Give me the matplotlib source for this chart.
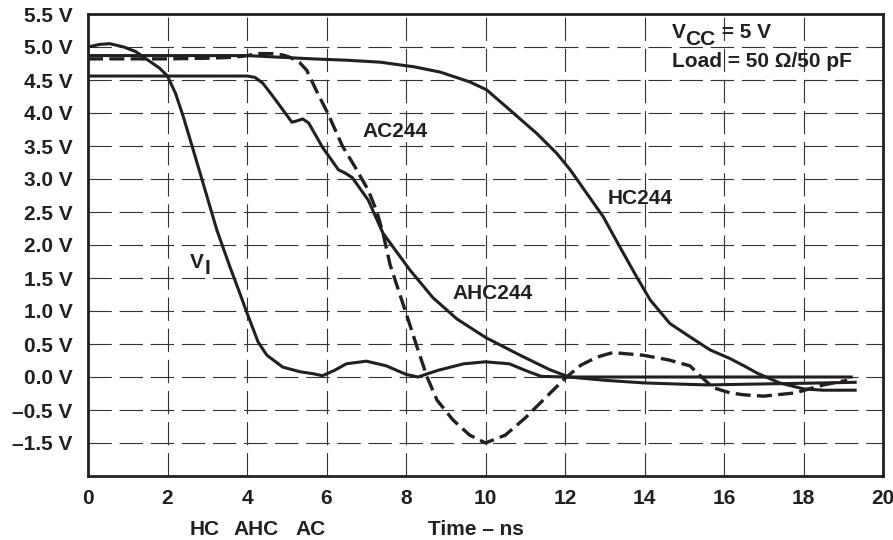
import matplotlib.pyplot as plt
import numpy as np

plt.rcParams['font.family'] = ['Liberation Sans', 'DejaVu Sans']
plt.rcParams['font.weight'] = 'bold'

ink = '#231f20'

# time axis (ns) and voltage readings for each trace
vi_t = [0, 0.3, 0.55, 0.9, 1.2, 1.56, 1.8, 2.0, 2.2, 2.4, 2.82, 3.24, 3.57, 3.8, 4.0, 4.28, 4.5,
        4.9, 5.33, 5.66, 5.9, 6.2, 6.5, 7.0, 7.5, 8.0, 8.3, 8.8, 9.45, 10.0, 10.6, 11.0, 11.4, 12.0, 19.2]
vi_v = [5.0, 5.04, 5.05, 5.0, 4.93, 4.78, 4.68, 4.56, 4.3, 3.94, 3.09, 2.23, 1.67, 1.3, 0.97, 0.53, 0.33,
        0.15, 0.08, 0.05, 0.02, 0.1, 0.2, 0.24, 0.17, 0.04, 0.0, 0.1, 0.2, 0.23, 0.2, 0.1, 0.01, 0.0, 0.0]

hc_t = [0, 2, 4, 5, 5.66, 6.5, 7.35, 8.2, 8.86, 9.61, 10.03, 10.7, 11.29, 11.79, 12.13, 12.55, 12.96,
        13.38, 13.8, 14.14, 14.64, 15.14, 15.65, 16.15, 16.5, 16.83, 17.4, 18.0, 18.5, 19.3]
hc_v = [4.87, 4.87, 4.87, 4.84, 4.82, 4.8, 4.77, 4.7, 4.62, 4.47, 4.35, 4.0, 3.69, 3.39, 3.14, 2.78, 2.43,
        1.97, 1.52, 1.17, 0.81, 0.61, 0.41, 0.28, 0.17, 0.06, -0.09, -0.18, -0.2, -0.2]

ac_t = [0, 1, 2, 3, 3.5, 3.9, 4.3, 4.6, 4.9, 5.1, 5.33, 5.5, 5.8, 6.03, 6.4, 6.72, 7.05, 7.27, 7.42, 7.6,
        8.0, 8.28, 8.53, 8.78, 9.18, 9.6, 10.0, 10.5, 11.0, 11.5, 12.0, 12.4, 12.8, 13.2, 13.96, 14.6,
        15.14, 15.4, 15.72, 16.15, 16.5, 17.0, 17.8, 18.2, 18.5, 19.1]
ac_v = [4.82, 4.82, 4.82, 4.83, 4.84, 4.86, 4.9, 4.9, 4.88, 4.84, 4.76, 4.65, 4.27, 4.0, 3.5, 3.18, 2.83, 2.5, 2.18, 1.7,
        0.97, 0.45, 0.0, -0.35, -0.65, -0.88, -1.0, -0.88, -0.62, -0.32, -0.02, 0.18, 0.3, 0.37, 0.33, 0.26,
        0.17, 0.02, -0.16, -0.24, -0.27, -0.29, -0.24, -0.17, -0.12, -0.05]

ahc_t = [0, 2, 4.0, 4.2, 4.4, 4.63, 4.9, 5.13, 5.25, 5.4, 5.55, 5.9, 6.3, 6.47, 6.65, 7.05, 7.42, 8.1,
         8.68, 9.28, 10.0, 10.45, 10.87, 11.62, 12.1, 13, 14, 15, 15.6, 16.5, 17.5, 18.5, 19.3]
ahc_v = [4.56, 4.56, 4.56, 4.54, 4.45, 4.27, 4.05, 3.86, 3.88, 3.91, 3.85, 3.48, 3.14, 3.09, 3.02, 2.68, 2.18, 1.62,
         1.2, 0.88, 0.6, 0.46, 0.33, 0.11, 0.0, -0.05, -0.09, -0.11, -0.12, -0.11, -0.1, -0.09, -0.08]

x_ticks = [0, 2, 4, 6, 8, 10, 12, 14, 16, 18, 20]
y_ticks = [5.5, 5.0, 4.5, 4.0, 3.5, 3.0, 2.5, 2.0, 1.5, 1.0, 0.5, 0.0, -0.5, -1.0]
y_labels = ['5.5 V', '5.0 V', '4.5 V', '4.0 V', '3.5 V', '3.0 V', '2.5 V', '2.0 V',
            '1.5 V', '1.0 V', '0.5 V', '0.0 V', '\u20130.5 V', '\u20131.5 V']

W, H = 893, 540
fig = plt.figure(figsize=(W / 100, H / 100), dpi=100)
ax = fig.add_axes([88 / W, (H - 476) / H, (883 - 88) / W, (476 - 14) / H])


def fx(x, y):
    return x / W, 1 - y / H


ax.set_xlim(0, 20)
ax.set_ylim(-1.5, 5.5)
ax.set_xticks(x_ticks)
ax.set_xticklabels([str(t) for t in x_ticks])
ax.set_yticks(y_ticks)
ax.set_yticklabels(y_labels)
ax.tick_params(length=0, labelsize=15, colors=ink)
ax.tick_params(axis='x', pad=9)
ax.tick_params(axis='y', pad=11)
for s in ax.spines.values():
    s.set_linewidth(2.0)
    s.set_color(ink)

ax.grid(True, linestyle=(0, (21, 7)), linewidth=0.8, color='#333333')
ax.set_axisbelow(True)

lw = 2.2
ax.plot(vi_t, vi_v, color=ink, lw=lw, solid_joinstyle='round')
ax.plot(hc_t, hc_v, color=ink, lw=lw, solid_joinstyle='round')
ax.plot(ahc_t, ahc_v, color=ink, lw=lw, solid_joinstyle='round')
ax.plot(ac_t, ac_v, color=ink, lw=2.4, linestyle=(0, (4.5, 1.9)))

fs = 15
# in-plot labels (pixel positions, baseline anchored)
fig.text(*fx(362, 137), 'AC244', fontsize=fs, color=ink, va='baseline')
fig.text(*fx(608, 204), 'HC244', fontsize=fs, color=ink, va='baseline')
fig.text(*fx(452, 299), 'AHC244', fontsize=fs, color=ink, va='baseline')
fig.text(*fx(190, 268), 'V', fontsize=fs, color=ink, va='baseline')
fig.text(*fx(205, 274), 'I', fontsize=fs, color=ink, va='baseline')

fig.text(*fx(672, 38), 'V', fontsize=fs, color=ink, va='baseline')
fig.text(*fx(685, 45), 'CC', fontsize=fs, color=ink, va='baseline')
fig.text(*fx(716, 38), ' = 5 V', fontsize=fs, color=ink, va='baseline')
fig.text(*fx(672, 67), 'Load = 50 \u03a9/50 pF', fontsize=fs, color=ink, va='baseline')

# labels under the axis
fig.text(*fx(190, 535), 'HC', fontsize=fs, color=ink, va='baseline')
fig.text(*fx(233, 535), 'AHC', fontsize=fs, color=ink, va='baseline')
fig.text(*fx(295, 535), 'AC', fontsize=fs, color=ink, va='baseline')
fig.text(*fx(476, 535), 'Time \u2013 ns', fontsize=fs, color=ink, va='baseline', ha='center')

fig.savefig('out.png', dpi=100)
